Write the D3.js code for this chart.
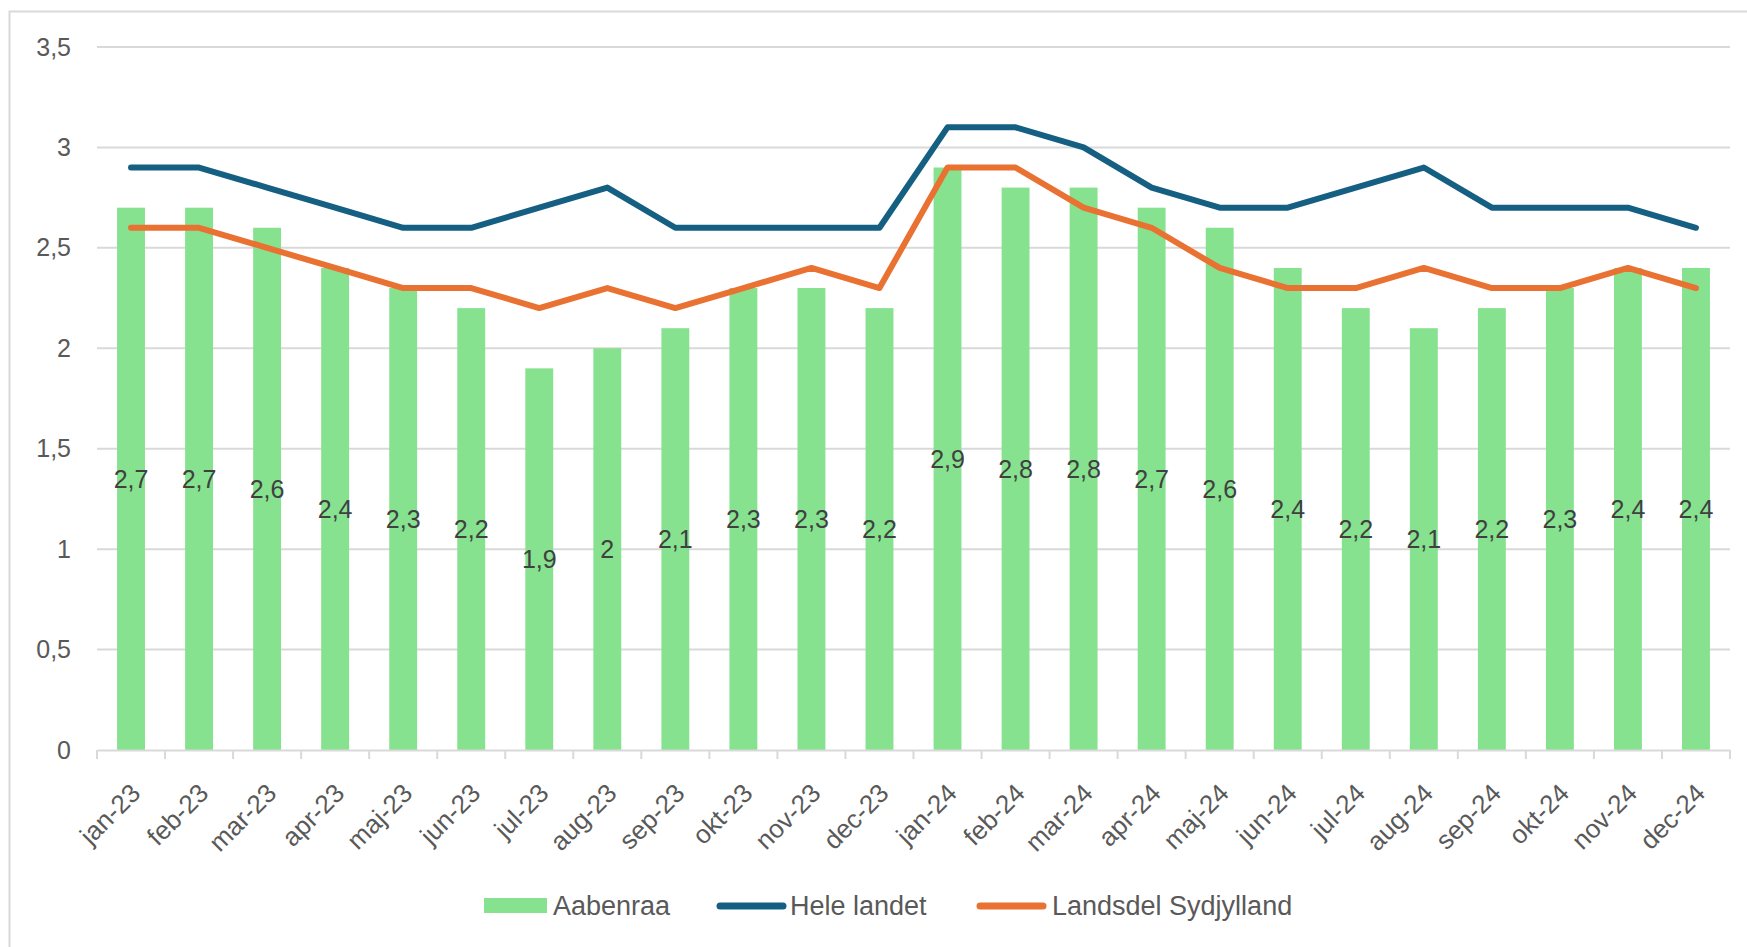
<!DOCTYPE html>
<html>
<head>
<meta charset="utf-8">
<script src="https://cdn.jsdelivr.net/npm/d3@7"></script>
<style>
  body { margin: 0; background: #fff; }
  svg { display: block; font-family: "Liberation Sans", Arial, sans-serif; }
</style>
</head>
<body>
<div id="chart"></div>
<script>
var months = ["jan-23", "feb-23", "mar-23", "apr-23", "maj-23", "jun-23", "jul-23", "aug-23", "sep-23", "okt-23", "nov-23", "dec-23",
	"jan-24", "feb-24", "mar-24", "apr-24", "maj-24", "jun-24", "jul-24", "aug-24", "sep-24", "okt-24", "nov-24", "dec-24"];
var aabenraa = [2.7, 2.7, 2.6, 2.4, 2.3, 2.2, 1.9, 2, 2.1, 2.3, 2.3, 2.2, 2.9, 2.8, 2.8, 2.7, 2.6, 2.4, 2.2, 2.1, 2.2, 2.3, 2.4, 2.4];
var heleLandet = [2.9, 2.9, 2.8, 2.7, 2.6, 2.6, 2.7, 2.8, 2.6, 2.6, 2.6, 2.6, 3.1, 3.1, 3.0, 2.8, 2.7, 2.7, 2.8, 2.9, 2.7, 2.7, 2.7, 2.6];
var sydjylland = [2.6, 2.6, 2.5, 2.4, 2.3, 2.3, 2.2, 2.3, 2.2, 2.3, 2.4, 2.3, 2.9, 2.9, 2.7, 2.6, 2.4, 2.3, 2.3, 2.4, 2.3, 2.3, 2.4, 2.3];
var yTicks = [0, 0.5, 1, 1.5, 2, 2.5, 3, 3.5];

var svgWidth = 1747;
var svgHeight = 947;
var margin = { top: 47, bottom: 197, left: 97, right: 17 };
var width = svgWidth - margin.left - margin.right;
var height = svgHeight - margin.top - margin.bottom;

var fmt = function(v) { return String(v).replace(".", ","); };

var svg = d3.select("#chart").append("svg")
	.attr("width", svgWidth)
	.attr("height", svgHeight);

// outer chart border
svg.append("rect")
	.attr("x", 9.5).attr("y", 11.5)
	.attr("width", svgWidth).attr("height", svgHeight)
	.attr("fill", "none")
	.attr("stroke", "#d9d9d9")
	.attr("stroke-width", 2);

var chartGroup = svg.append("g")
	.attr("transform", `translate(${margin.left}, ${margin.top})`);

var x = d3.scaleBand().domain(months).range([0, width]).paddingInner(0.59).paddingOuter(0.295);
var xBand = d3.scaleBand().domain(months).range([0, width]);
var y = d3.scaleLinear().domain([0, 3.5]).range([height, 0]);

// gridlines
chartGroup.append("g")
	.selectAll("line")
	.data(yTicks.slice(1))
	.enter()
	.append("line")
	.attr("x1", 0).attr("x2", width)
	.attr("y1", d => y(d)).attr("y2", d => y(d))
	.attr("stroke", "#d9d9d9")
	.attr("stroke-width", 2);

// y axis labels
var leftAxis = d3.axisLeft(y).tickValues(yTicks).tickSize(0).tickPadding(26).tickFormat(fmt);
var yAxis = chartGroup.append("g").call(leftAxis);
yAxis.select(".domain").remove();
yAxis.selectAll("text")
	.attr("fill", "#595959")
	.style("font-size", "25px");

// bars
chartGroup.selectAll(".bar")
	.data(aabenraa)
	.enter()
	.append("rect")
	.attr("class", "bar")
	.attr("x", (d, i) => x(months[i]))
	.attr("y", d => y(d))
	.attr("width", x.bandwidth())
	.attr("height", d => height - y(d))
	.attr("fill", "#86e28f");

// x axis
var bottomAxis = d3.axisBottom(xBand).tickSize(0);
var xAxis = chartGroup.append("g")
	.attr("transform", `translate(0, ${height})`)
	.call(bottomAxis);
xAxis.select(".domain").attr("stroke", "#d9d9d9").attr("stroke-width", 2);
xAxis.selectAll("text").remove();

chartGroup.append("g")
	.attr("transform", `translate(0, ${height})`)
	.selectAll("line")
	.data(d3.range(months.length + 1))
	.enter()
	.append("line")
	.attr("x1", d => d * xBand.step()).attr("x2", d => d * xBand.step())
	.attr("y1", 0).attr("y2", 9)
	.attr("stroke", "#d9d9d9")
	.attr("stroke-width", 2);

chartGroup.append("g")
	.selectAll("text")
	.data(months)
	.enter()
	.append("text")
	.attr("transform", d => `translate(${xBand(d) + xBand.bandwidth() / 2 - 2}, ${height + 32}) rotate(-45)`)
	.attr("text-anchor", "end")
	.attr("dy", "0.7em")
	.attr("fill", "#595959")
	.style("font-size", "26px")
	.text(d => d);

// lines
var line = d3.line()
	.x((d, i) => xBand(months[i]) + xBand.bandwidth() / 2)
	.y(d => y(d));

chartGroup.append("path")
	.datum(heleLandet)
	.attr("d", line)
	.attr("fill", "none")
	.attr("stroke", "#156082")
	.attr("stroke-width", 6)
	.attr("stroke-linecap", "round")
	.attr("stroke-linejoin", "round");

chartGroup.append("path")
	.datum(sydjylland)
	.attr("d", line)
	.attr("fill", "none")
	.attr("stroke", "#e97132")
	.attr("stroke-width", 6)
	.attr("stroke-linecap", "round")
	.attr("stroke-linejoin", "round");

// data labels at bar centres
chartGroup.selectAll(".lbl")
	.data(aabenraa)
	.enter()
	.append("text")
	.attr("class", "lbl")
	.attr("x", (d, i) => xBand(months[i]) + xBand.bandwidth() / 2)
	.attr("y", d => y(d / 2))
	.attr("dy", "0.35em")
	.attr("text-anchor", "middle")
	.attr("fill", "#404040")
	.style("font-size", "25px")
	.text(fmt);

// legend
var legend = svg.append("g").attr("transform", "translate(0, 906)");
var items = [
	{ name: "Aabenraa", type: "bar", color: "#86e28f", x: 484, tx: 553 },
	{ name: "Hele landet", type: "line", color: "#156082", x: 720, tx: 790 },
	{ name: "Landsdel Sydjylland", type: "line", color: "#e97132", x: 980, tx: 1052 }
];
items.forEach(function(it) {
	if (it.type === "bar") {
		legend.append("rect")
			.attr("x", it.x).attr("y", -8)
			.attr("width", 63).attr("height", 15)
			.attr("fill", it.color);
	} else {
		legend.append("line")
			.attr("x1", it.x).attr("x2", it.x + 63)
			.attr("y1", 0).attr("y2", 0)
			.attr("stroke", it.color)
			.attr("stroke-width", 7)
			.attr("stroke-linecap", "round");
	}
	legend.append("text")
		.attr("x", it.tx)
		.attr("dy", "0.35em")
		.attr("fill", "#595959")
		.style("font-size", "27px")
		.text(it.name);
});
</script>
</body>
</html>
